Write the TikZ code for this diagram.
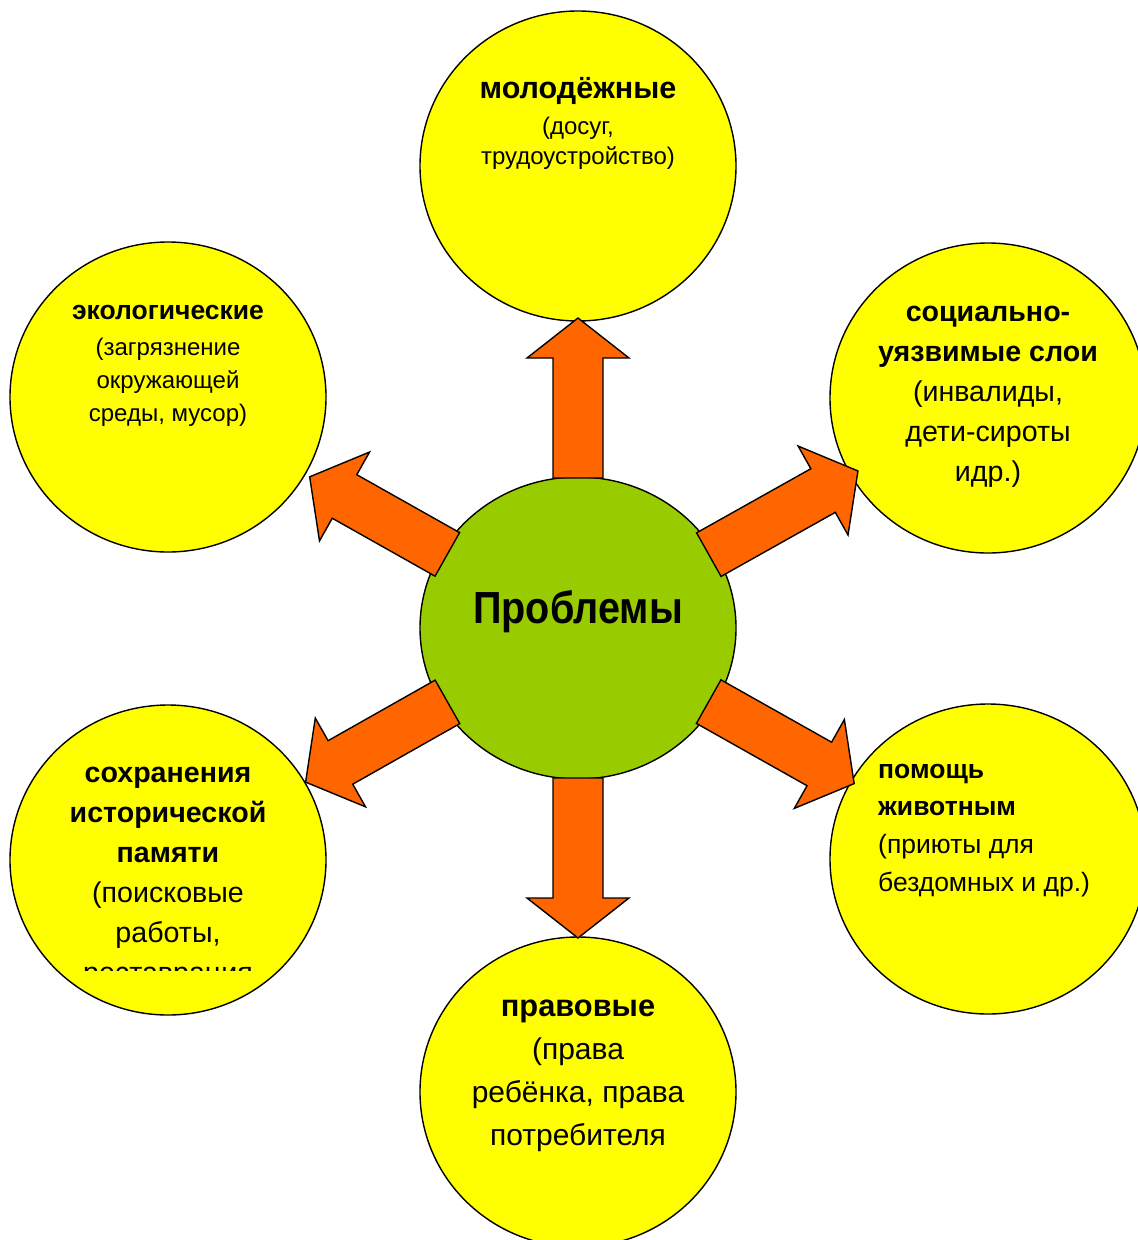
\documentclass[tikz,border=0pt]{standalone}
\usepackage{fontspec}
\setmainfont{Liberation Sans}
\newfontfamily\headfont{Liberation Sans}[FakeStretch=0.88]
\usetikzlibrary{calc,shapes.geometric}

\definecolor{topicyellow}{HTML}{FFFF00}
\definecolor{coregreen}{HTML}{99CC00}
\definecolor{pushorange}{HTML}{FF6600}

% block arrow leaving the centre of #1 towards #2, tip at distance #3
\newcommand{\pusharrow}[3]{%
  \draw[push] ($(#1)!150pt!(#2)!25pt!90:(#2)$)
    -- ($(#1)!#3pt-40pt!(#2)!25pt!90:(#2)$)
    -- ($(#1)!#3pt-40pt!(#2)!51pt!90:(#2)$)
    -- ($(#1)!#3pt!(#2)$)
    -- ($(#1)!#3pt-40pt!(#2)!51pt!-90:(#2)$)
    -- ($(#1)!#3pt-40pt!(#2)!25pt!-90:(#2)$)
    -- ($(#1)!150pt!(#2)!25pt!-90:(#2)$) -- cycle;}

\begin{document}
\begin{tikzpicture}[x=1pt, y=1pt,
		topic/.style={draw, ellipse, line width=1.4pt, fill=topicyellow, minimum width=316pt, minimum height=310pt, inner sep=0pt},
		core/.style={draw, ellipse, line width=1.4pt, fill=coregreen, minimum width=316pt, minimum height=302pt, inner sep=0pt},
		push/.style={draw, fill=pushorange, line width=1.4pt, line join=miter},
		caption/.style={align=center, inner sep=0pt, anchor=north}
		]
		\clip (0,0) rectangle (1138,-1240);
		
		% Circles
		\node[core] (problems) at (578,-628) {};
		\node[topic] (youth) at (578,-166) {};
		\node[topic] (ecology) at (168,-397) {};
		\node[topic] (social) at (988,-398) {};
		\node[topic] (memory) at (168,-860) {};
		\node[topic] (animals) at (988,-859) {};
		\node[topic] (rights) at (578,-1092) {};
		
		% Arrows
		\pusharrow{problems}{youth}{310}
		\pusharrow{problems}{ecology}{308}
		\pusharrow{problems}{social}{321}
		\pusharrow{problems}{memory}{313}
		\pusharrow{problems}{animals}{317}
		\pusharrow{problems}{rights}{310}
		
		% Texts
		\node[font=\fontsize{45}{50}\selectfont\headfont\bfseries, anchor=base] (problemstext) at (578,-623) {Проблемы};
		\node[caption, font=\fontsize{24}{30}\selectfont] (youthtext) at (578,-77) {{\fontsize{30.5}{30}\selectfont\bfseries молодёжные}\\[6pt](досуг,\\трудоустройство)};
		\node[caption, font=\fontsize{24}{33}\selectfont] (ecologytext) at (168,-305) {{\fontsize{26.5}{33}\selectfont\bfseries экологические}\\[3pt](загрязнение\\окружающей\\среды, мусор)};
		\node[caption, font=\fontsize{28.6}{40}\selectfont] (socialtext) at (988,-306) {{\bfseries социально-}\\{\bfseries уязвимые слои}\\(инвалиды,\\дети-сироты\\идр.)};
		\node[caption, align=left, anchor=north west, font=\fontsize{26.5}{38}\selectfont] (animalstext) at (878,-764) {{\bfseries помощь}\\[-1pt]{\bfseries животным}\\(приюты для\\бездомных и др.)};
		\begin{scope}
			\clip (0,-700) rectangle (340,-970);
			\node[caption, font=\fontsize{28.6}{40}\selectfont] (memorytext) at (168,-767) {{\bfseries сохранения}\\{\bfseries исторической}\\{\bfseries памяти}\\(поисковые\\работы,\\реставрация};
		\end{scope}
		\node[caption, font=\fontsize{30}{43}\selectfont] (rightstext) at (578,-1000) {{\fontsize{30.8}{43}\selectfont\bfseries правовые}\\(права\\ребёнка, права\\потребителя};
		
	\end{tikzpicture}
\end{document}
